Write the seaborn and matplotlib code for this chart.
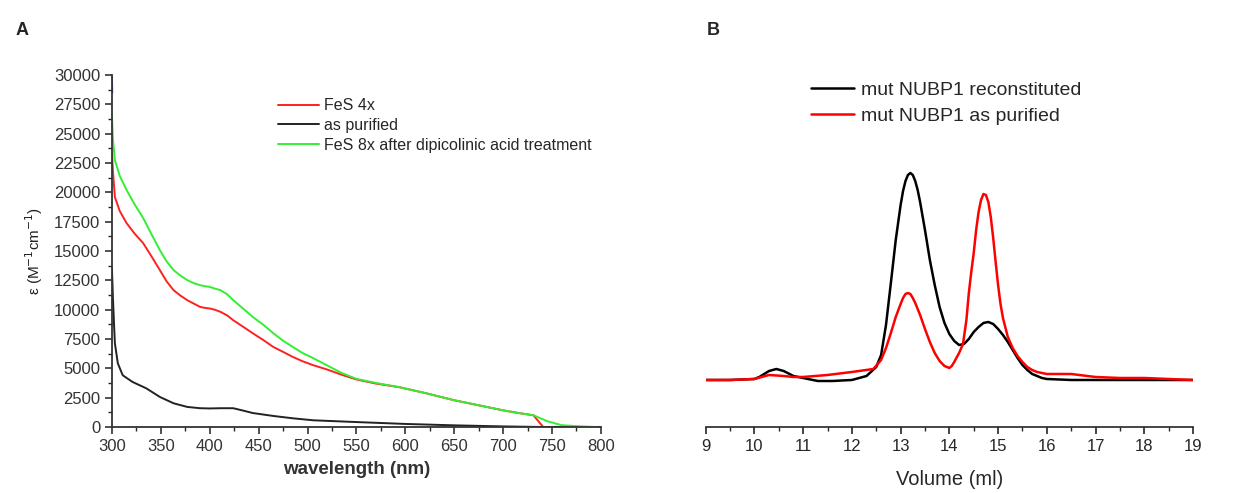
import numpy as np
import pandas as pd
import matplotlib
matplotlib.use("Agg")
import matplotlib.pyplot as plt
import seaborn as sns
from matplotlib.ticker import MultipleLocator

# ---- panel A: UV-vis spectra (wavelength nm, epsilon M-1 cm-1) ----
red_nm = [300, 301, 303, 308, 315, 323, 332, 340, 349, 356, 363, 370, 377, 384, 390,
          395, 400, 405, 411, 418, 424, 434, 444, 455, 465, 475, 485, 495, 506, 520,
          535, 550, 570, 594, 620, 650, 675, 700, 715, 731, 737, 741, 760, 790]
red_eps = [23300, 21800, 19600, 18400, 17370, 16500, 15660, 14600, 13370, 12400, 11660, 11200, 10810, 10500, 10240,
           10150, 10100, 10000, 9810, 9500, 9100, 8550, 7990, 7400, 6820, 6400, 5970, 5600, 5260, 4900,
           4450, 4050, 3700, 3390, 2900, 2280, 1850, 1420, 1200, 1000, 400, 0, 0, 0]

black_nm = [300, 301, 302, 303, 306, 311, 321, 335, 349, 363, 377, 390, 400, 411, 424,
            434, 444, 465, 485, 506, 550, 600, 650, 700, 740, 800]
black_eps = [13500, 11000, 9000, 7140, 5430, 4410, 3840, 3300, 2560, 2020, 1710, 1600, 1580, 1600, 1600,
             1400, 1190, 940, 740, 570, 420, 260, 140, 50, 0, 0]

green_nm = [300, 301, 303, 308, 315, 323, 332, 340, 349, 356, 363, 370, 377, 384, 390,
            395, 400, 405, 411, 418, 424, 434, 444, 455, 465, 475, 485, 495, 506, 520,
            535, 550, 570, 594, 620, 650, 675, 700, 715, 731, 745, 760, 780, 795]
green_eps = [26400, 24500, 22750, 21400, 20190, 19000, 17800, 16500, 15070, 14100, 13370, 12900, 12520, 12250, 12090,
             12000, 11940, 11800, 11660, 11300, 10810, 10100, 9380, 8700, 7990, 7350, 6820, 6300, 5860, 5250,
             4600, 4100, 3750, 3390, 2900, 2280, 1850, 1420, 1200, 1000, 500, 150, 50, 0]

blue_nm = [300, 300.3]
blue_eps = [29900, 28500]

# ---- panel B: size-exclusion chromatograms (volume ml, signal a.u.) ----
recon_ml = [9.0, 9.5, 10.0, 10.1, 10.2, 10.3, 10.45, 10.6, 10.8, 11.0, 11.3, 11.6, 12.0, 12.3,
            12.5, 12.6, 12.7, 12.8, 12.9, 13.0, 13.05, 13.1, 13.15, 13.2, 13.25, 13.3, 13.35,
            13.4, 13.5, 13.6, 13.7, 13.8, 13.9, 14.0, 14.1, 14.2, 14.3, 14.4, 14.5, 14.6,
            14.7, 14.8, 14.9, 15.0, 15.1, 15.2, 15.3, 15.4, 15.5, 15.6, 15.7, 15.8, 15.9,
            16.0, 16.5, 17.0, 17.5, 18.0, 19.0]
recon_sig = [0, 0, 1, 3, 6, 9, 11, 9, 4, 2, -1, -1, 0, 4,
             13, 25, 55, 97, 140, 175, 189, 199, 205, 207, 205, 199, 190,
             178, 150, 120, 95, 73, 57, 46, 39, 35, 36, 41, 48, 53,
             57, 58, 56, 51, 45, 38, 30, 22, 15, 10, 6, 4, 2,
             1, 0, 0, 0, 0, 0]

purif_ml = [9.0, 9.5, 10.0, 10.15, 10.3, 10.45, 10.6, 10.8, 11.0, 11.5, 12.0, 12.44, 12.6, 12.7,
            12.8, 12.9, 13.0, 13.05, 13.1, 13.15, 13.2, 13.25, 13.3, 13.4, 13.5, 13.6, 13.7,
            13.8, 13.9, 14.0, 14.05, 14.1, 14.2, 14.28, 14.35, 14.4, 14.45, 14.5, 14.55, 14.6,
            14.65, 14.7, 14.75, 14.8, 14.85, 14.9, 14.95, 15.0, 15.05, 15.1, 15.2, 15.3, 15.4,
            15.5, 15.6, 15.7, 15.8, 16.0, 16.5, 17.0, 17.5, 18.0, 18.5, 19.0]
purif_sig = [0, 0, 1, 3, 5, 4.5, 4, 3, 3, 5, 8, 11, 20, 32,
             47, 63, 76, 82, 86, 87, 86, 82, 77, 65, 51, 38, 27,
             19, 14, 12, 14, 18, 27, 36, 60, 87, 108, 127, 150, 168,
             180, 186, 185, 178, 163, 142, 118, 95, 76, 62, 43, 32, 24,
             18, 13, 10, 8, 6, 6, 3, 2, 2, 1, 0]

spec = pd.concat([
    pd.DataFrame({"nm": red_nm, "eps": red_eps, "s": "FeS 4x"}),
    pd.DataFrame({"nm": black_nm, "eps": black_eps, "s": "as purified"}),
    pd.DataFrame({"nm": green_nm, "eps": green_eps, "s": "FeS 8x after dipicolinic acid treatment"}),
])
sec = pd.concat([
    pd.DataFrame({"ml": recon_ml, "sig": recon_sig, "s": "mut NUBP1 reconstituted"}),
    pd.DataFrame({"ml": purif_ml, "sig": purif_sig, "s": "mut NUBP1 as purified"}),
])

sns.set_style("ticks")
plt.rcParams["font.family"] = ["Liberation Sans", "DejaVu Sans"]

fig = plt.figure(figsize=(12.55, 4.93), dpi=100)
axA = fig.add_axes([0.0892, 0.1339, 0.3896, 0.714])
axB = fig.add_axes([0.5623, 0.1339, 0.3883, 0.7444])

# panel A
sns.lineplot(data=spec, x="nm", y="eps", hue="s", sort=False, estimator=None,
             palette=["#ff2020", "#222222", "#33ee33"], linewidth=1.4, ax=axA)
axA.plot(blue_nm, blue_eps, color="#2233dd", lw=1.4)
axA.set_xlim(300, 800)
axA.set_ylim(0, 30000)
axA.xaxis.set_major_locator(MultipleLocator(50))
axA.xaxis.set_minor_locator(MultipleLocator(25))
axA.yaxis.set_major_locator(MultipleLocator(2500))
axA.yaxis.set_minor_locator(MultipleLocator(1250))
axA.tick_params(which="major", direction="out", length=5, width=1.2, labelsize=12, colors="#333333")
axA.tick_params(which="minor", direction="out", length=3, width=1)
for sp in ["top", "right"]:
    axA.spines[sp].set_visible(False)
for sp in ["left", "bottom"]:
    axA.spines[sp].set_linewidth(1.3)
    axA.spines[sp].set_color("#333333")
axA.set_xlabel("wavelength (nm)", fontsize=13.5, fontweight="bold", color="#333333", labelpad=5)
axA.set_ylabel("ε (M$^{-1}$cm$^{-1}$)", fontsize=11, color="#222222", labelpad=6)
axA.legend(loc="upper left", bbox_to_anchor=(0.31, 0.975), frameon=False, fontsize=11.5,
           handlelength=2.6, handletextpad=0.3, labelspacing=0.3, title=None)

# panel B
sns.lineplot(data=sec, x="ml", y="sig", hue="s", sort=False, estimator=None,
             palette=["#000000", "#ff0000"], linewidth=1.8, ax=axB)
axB.set_xlim(9, 19)
axB.set_ylim(-47, 320)
axB.xaxis.set_major_locator(MultipleLocator(1))
axB.xaxis.set_minor_locator(MultipleLocator(0.5))
axB.tick_params(which="major", direction="out", length=5, width=1.2, labelsize=12)
axB.tick_params(which="minor", direction="out", length=3, width=1)
axB.set_yticks([])
axB.set_ylabel("")
for sp in ["top", "right", "left"]:
    axB.spines[sp].set_visible(False)
axB.spines["bottom"].set_linewidth(1.2)
axB.set_xlabel("Volume (ml)", fontsize=14.5, labelpad=12)
axB.legend(loc="upper left", bbox_to_anchor=(0.18, 0.99), frameon=False, fontsize=14,
           handlelength=2.2, handletextpad=0.4, labelspacing=0.45, title=None)

fig.text(0.012, 0.93, "A", fontsize=13, fontweight="bold")
fig.text(0.563, 0.93, "B", fontsize=13, fontweight="bold")

fig.savefig("out.png", dpi=100)
